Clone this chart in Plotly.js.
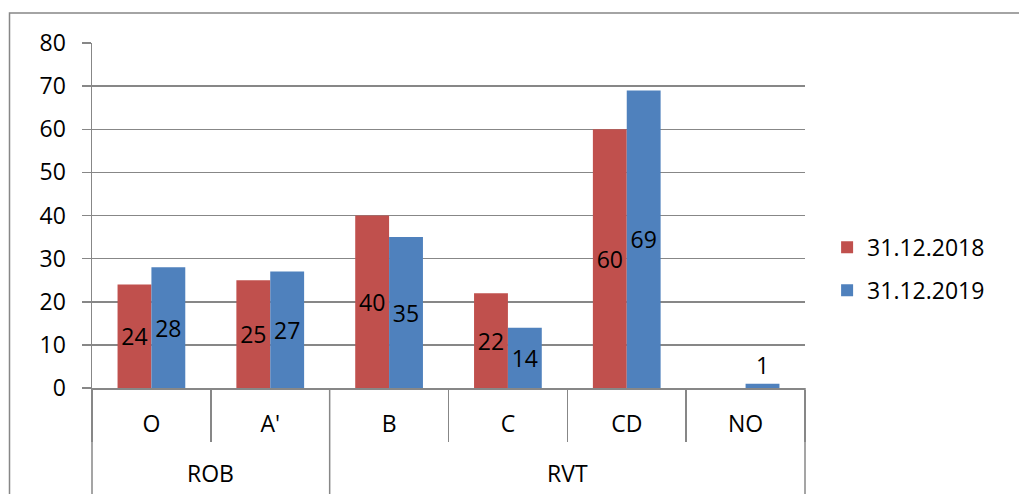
<!DOCTYPE html>
<html>
<head>
<meta charset="utf-8">
<script src="https://cdn.plot.ly/plotly-3.0.1.min.js"></script>
<style>
  html, body { margin: 0; padding: 0; background: #fff; }
  #chart { width: 1019px; height: 494px; }
</style>
</head>
<body>
<div id="chart"></div>
<script>
// Category hierarchy: outer group and inner class
const groups = ["ROB", "ROB", "RVT", "RVT", "RVT", "RVT"];
const categories = ["O", "A'", "B", "C", "CD", "NO"];

// Counts per date
const series2018 = [24, 25, 40, 22, 60, null];
const series2019 = [28, 27, 35, 14, 69, 1];
const seriesNames = ["31.12.2018", "31.12.2019"];

const yTicks = [0, 10, 20, 30, 40, 50, 60, 70, 80];

const font = { family: "Open Sans, Liberation Sans, sans-serif", size: 23, color: "#000" };
const lineGray = "#878787";

function barTrace(name, values, color, group) {
  return {
    type: "bar",
    name: name,
    x: categories,
    y: values,
    marker: { color: color },
    text: values.map(v => (v == null ? "" : String(v))),
    textposition: "auto",
    insidetextanchor: "middle",
    textangle: 0,
    constraintext: "none",
    textfont: font,
    insidetextfont: font,
    outsidetextfont: font,
    cliponaxis: false,
    legendgroup: group,
    hoverinfo: "skip"
  };
}

const data = [
  barTrace(seriesNames[0], series2018, "#C0504D", "a"),
  barTrace(seriesNames[1], series2019, "#4F81BD", "b")
];

// Outer group spans (start/end index of each run of equal group names)
const spans = [];
groups.forEach((g, i) => {
  const last = spans[spans.length - 1];
  if (last && last.name === g) last.end = i;
  else spans.push({ name: g, start: i, end: i });
});
const n = categories.length;
const toPaper = idx => (idx + 0.5) / n;

// Group separators run from the axis line to the bottom of the chart
const boundaries = [spans[0].start - 0.5].concat(spans.map(s => s.end + 0.5));
const dividerShapes = boundaries.map(b => ({
  type: "line",
  xref: "paper",
  yref: "paper",
  x0: toPaper(b),
  x1: toPaper(b),
  y0: 0,
  y1: -0.35,
  line: { color: lineGray, width: 1.5 }
}));

const groupLabels = spans.map(s => ({
  xref: "paper",
  yref: "paper",
  x: toPaper((s.start + s.end) / 2),
  y: -0.2464,
  xanchor: "center",
  yanchor: "middle",
  text: s.name,
  showarrow: false,
  font: font
}));

const layout = {
  width: 1019,
  height: 494,
  margin: { l: 92, r: 214, t: 43, b: 106 },
  paper_bgcolor: "#fff",
  plot_bgcolor: "#fff",
  font: font,
  barmode: "group",
  bargap: 0.43,
  bargroupgap: 0,
  showlegend: true,
  xaxis: {
    type: "category",
    categoryorder: "array",
    categoryarray: categories,
    range: [-0.5, n - 0.5],
    showgrid: false,
    zeroline: false,
    showline: true,
    linecolor: lineGray,
    linewidth: 1.5,
    ticks: "outside",
    tickson: "boundaries",
    ticklen: 52,
    tickwidth: 1.5,
    tickcolor: lineGray,
    ticklabelstandoff: 15,
    tickfont: font
  },
  yaxis: {
    range: [0, 80],
    tickvals: yTicks,
    ticktext: yTicks.map(String),
    showgrid: true,
    gridcolor: lineGray,
    gridwidth: 1.5,
    zeroline: false,
    showline: true,
    linecolor: lineGray,
    linewidth: 1.5,
    ticks: "outside",
    ticklen: 9,
    tickwidth: 1.5,
    tickcolor: lineGray,
    ticklabelstandoff: 11,
    tickfont: font
  },
  legend: {
    x: 1.031,
    y: 0.47,
    xanchor: "left",
    yanchor: "top",
    font: font,
    traceorder: "grouped",
    tracegroupgap: 10,
    bgcolor: "rgba(0,0,0,0)"
  },
  annotations: groupLabels,
  shapes: [
    {
      type: "rect",
      xref: "paper",
      yref: "paper",
      x0: -0.1157,
      x1: 1.5,
      y0: -0.5,
      y1: 1.087,
      line: { color: lineGray, width: 1.5 },
      fillcolor: "rgba(0,0,0,0)",
      layer: "below"
    }
  ].concat(dividerShapes)
};

Plotly.newPlot("chart", data, layout, { displayModeBar: false, staticPlot: true });
</script>
</body>
</html>
